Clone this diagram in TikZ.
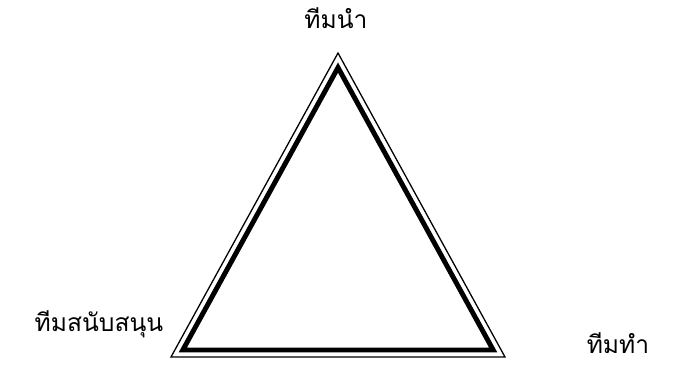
\documentclass[tikz,border=0pt]{standalone}
\usepackage{fontspec}
\newfontfamily\thaifont[Script=Thai]{Loma}
\tikzset{
  team/.style={font=\thaifont\fontsize{21}{24}\selectfont, inner sep=0pt},
  rim/.style={line width=1.1pt, line join=miter},
  core/.style={line width=4.2pt, line join=miter}
}
\begin{document}
\begin{tikzpicture}[x=0.03cm, y=-0.03cm]
    \useasboundingbox (0,0) rectangle (677,366);

    % outer thin triangle
    \coordinate (top) at (338,53);
    \coordinate (left) at (171,357);
    \coordinate (right) at (505,357);
    \draw[rim] (top) -- (left) -- (right) -- cycle;

    % inner thick triangle
    \coordinate (itop) at (338,67.6);
    \coordinate (ileft) at (182.8,350);
    \coordinate (iright) at (493.2,350);
    \draw[core] (itop) -- (ileft) -- (iright) -- cycle;

    % labels
    \node[team] (lead) at (336,18) {ทีมนำ};
    \node[team] (support) at (99,324) {ทีมสนับสนุน};
    \node[team] (work) at (618,343) {ทีมทำ};

\end{tikzpicture}
\end{document}
